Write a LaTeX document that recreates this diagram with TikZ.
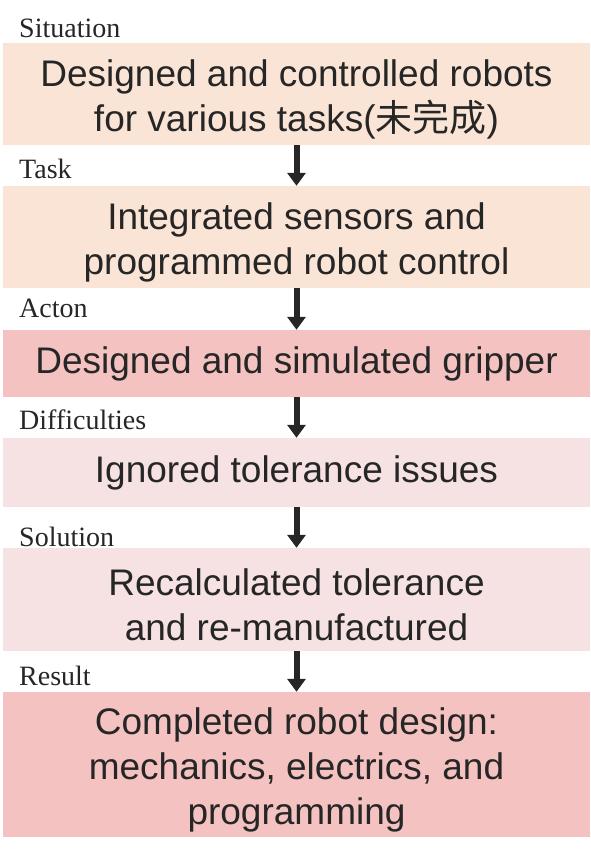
\documentclass[tikz,border=0pt]{standalone}
\usepackage{fontspec}
\setmainfont{Liberation Serif}
\newfontfamily\boxfont{Liberation Sans}
\newfontfamily\cjkfont{Noto Sans CJK SC}
\usepackage{tikz}
\usetikzlibrary{arrows.meta, positioning}
\usepackage{xcolor}
\definecolor{peachfill}{HTML}{FAE4D6}
\definecolor{rosefill}{HTML}{F5C2C2}
\definecolor{palefill}{HTML}{F6E2E2}
\definecolor{inkcolor}{HTML}{262626}
\newcommand{\topstrut}{\rule{0pt}{37pt}}

\begin{document}
\begin{tikzpicture}[
  x=1pt, y=-1pt,
  stage/.style={rectangle, draw=none, minimum width=587pt, align=center,
                text=inkcolor, font=\boxfont\fontsize{37pt}{45pt}\selectfont},
  tag/.style={anchor=base west, inner sep=0pt, text=inkcolor,
              font=\fontsize{28pt}{32pt}\selectfont},
  flow/.style={-{Triangle[width=18pt, length=13pt]}, line width=6pt, inkcolor}
]
  \useasboundingbox (0,0) rectangle (590,857);

  \node[stage, fill=peachfill, minimum height=102pt] (B1) at (296.5,94)
        {\topstrut Designed and controlled robots\\for various tasks({\cjkfont 未完成})};
  \node[stage, fill=peachfill, minimum height=102pt] (B2) at (296.5,237)
        {\topstrut Integrated sensors and\\programmed robot control};
  \node[stage, fill=rosefill, minimum height=67pt] (B3) at (296.5,363.5)
        {Designed and simulated gripper};
  \node[stage, fill=palefill, minimum height=69pt] (B4) at (296.5,472.5)
        {Ignored tolerance issues};
  \node[stage, fill=palefill, minimum height=103pt] (B5) at (296.5,599.5)
        {\topstrut Recalculated tolerance\\and re-manufactured};
  \node[stage, fill=rosefill, minimum height=145pt] (B6) at (296.5,764.5)
        {\topstrut Completed robot design:\\mechanics, electrics, and\\programming};

  \node[tag] (T1) at (19,37)  {Situation};
  \node[tag] (T2) at (19,178) {Task};
  \node[tag] (T3) at (19,317) {Acton};
  \node[tag] (T4) at (19,429) {Difficulties};
  \node[tag] (T5) at (19,546) {Solution};
  \node[tag] (T6) at (19,685) {Result};

  \draw[flow] (B1.south) -- (B2.north);
  \draw[flow] (B2.south) -- (B3.north);
  \draw[flow] (B3.south) -- (B4.north);
  \draw[flow] (B4.south) -- (B5.north);
  \draw[flow] (B5.south) -- (B6.north);
\end{tikzpicture}
\end{document}
